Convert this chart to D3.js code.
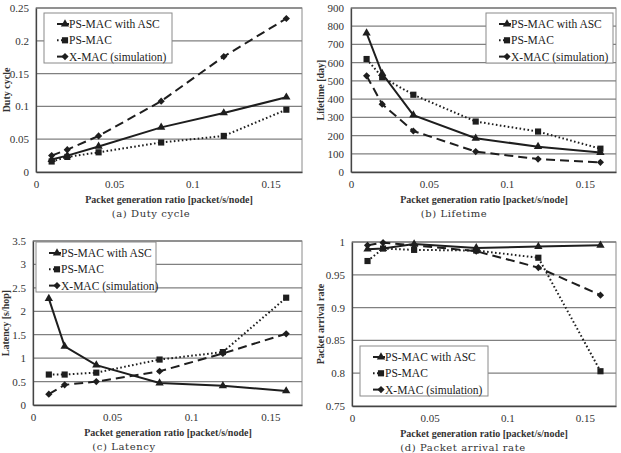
<!DOCTYPE html>
<html>
<head>
<meta charset="utf-8">
<script src="https://cdn.jsdelivr.net/npm/d3@7"></script>
<style>
  body { margin: 0; background: #fff; }
  svg { display: block; }
</style>
</head>
<body>
<svg id="chart" width="621" height="453"></svg>
<script>
// data
var xValues = [0.01, 0.02, 0.04, 0.08, 0.12, 0.16];
var seriesNames = ["PS-MAC with ASC", "PS-MAC", "X-MAC (simulation)"];
var xTicks = [0, 0.05, 0.1, 0.15];

var dutyAsc = [0.019, 0.025, 0.039, 0.068, 0.090, 0.114];
var dutyPs = [0.016, 0.023, 0.030, 0.045, 0.055, 0.095];
var dutyX = [0.025, 0.034, 0.055, 0.108, 0.176, 0.234];
var dutyTicks = [0, 0.05, 0.1, 0.15, 0.2, 0.25];

var lifeAsc = [762, 540, 312, 185, 139, 107];
var lifePs = [620, 520, 424, 277, 222, 128];
var lifeX = [528, 372, 225, 112, 71, 53];
var lifeTicks = [0, 100, 200, 300, 400, 500, 600, 700, 800, 900];

var latAsc = [2.27, 1.25, 0.85, 0.47, 0.41, 0.30];
var latPs = [0.65, 0.65, 0.69, 0.97, 1.13, 2.29];
var latX = [0.23, 0.43, 0.50, 0.72, 1.10, 1.52];
var latTicks = [0, 0.5, 1, 1.5, 2, 2.5, 3, 3.5];

var arrAsc = [0.989, 0.990, 0.997, 0.991, 0.993, 0.995];
var arrPs = [0.971, 0.990, 0.988, 0.987, 0.976, 0.803];
var arrX = [0.995, 0.999, 0.995, 0.986, 0.961, 0.919];
var arrTicks = [0.75, 0.8, 0.85, 0.9, 0.95, 1];

var panels = [
  { caption: "(a) Duty cycle", ytitle: "Duty cycle", series: [dutyAsc, dutyPs, dutyX], yTicks: dutyTicks,
    box: {l: 36, r: 302, t: 8, b: 172}, ytx: 6, legend: {x: 44, y: 13, w: 128}, capX: 151, titleX: 169 },
  { caption: "(b) Lifetime", ytitle: "Lifetime [day]", series: [lifeAsc, lifePs, lifeX], yTicks: lifeTicks,
    box: {l: 351, r: 616, t: 8, b: 172}, ytx: 320, legend: {x: 486, y: 13, w: 127}, capX: 454, titleX: 484 },
  { caption: "(c) Latency", ytitle: "Latency [s/hop]", series: [latAsc, latPs, latX], yTicks: latTicks,
    box: {l: 33, r: 302, t: 241, b: 405}, ytx: 5, legend: {x: 36, y: 242, w: 120}, capX: 124, titleX: 168 },
  { caption: "(d) Packet arrival rate", ytitle: "Packet arrival rate", series: [arrAsc, arrPs, arrX], yTicks: arrTicks,
    box: {l: 352, r: 616, t: 242, b: 406}, ytx: 320, legend: {x: 360, y: 346, w: 128}, capX: 463, titleX: 484 }
];

var ink = "#1e1e1e";
var dashes = [null, "1.6,2.4", "9,5"];
// diamond = rotated square
var markers = [d3.symbolTriangle, d3.symbolSquare, d3.symbolSquare];
var markerSize = [30, 38, 26];
var markerRot = [0, 0, 45];

var svg = d3.select("#chart");

panels.forEach(function(p) {
  var g = svg.append("g");
  var x = d3.scaleLinear().domain([0, 0.17]).range([p.box.l, p.box.r]);
  var y = d3.scaleLinear().domain(d3.extent(p.yTicks)).range([p.box.b, p.box.t]);

  // plot frame + grid
  g.append("rect")
    .attr("x", p.box.l).attr("y", p.box.t)
    .attr("width", p.box.r - p.box.l).attr("height", p.box.b - p.box.t)
    .attr("fill", "#fff").attr("stroke", "#8a8a8a").attr("stroke-width", 1);

  g.selectAll(".grid")
    .data(p.yTicks.slice(1))
    .enter().append("line")
    .attr("x1", p.box.l).attr("x2", p.box.r)
    .attr("y1", d => y(d)).attr("y2", d => y(d))
    .attr("stroke", "#808080").attr("stroke-width", 1.3);

  var yAxis = g.append("g")
    .attr("transform", "translate(" + p.box.l + ",0)")
    .call(d3.axisLeft(y).tickValues(p.yTicks).tickSize(0).tickPadding(7).tickFormat(d3.format("")));
  var xAxis = g.append("g")
    .attr("transform", "translate(0," + p.box.b + ")")
    .call(d3.axisBottom(x).tickValues(xTicks).tickSize(0).tickPadding(8).tickFormat(d3.format("")));
  [yAxis, xAxis].forEach(function(a) {
    a.select(".domain").attr("stroke", "#444").attr("stroke-width", 1.3);
    a.selectAll("text").attr("font-family", "Liberation Serif, serif").attr("font-size", 11).attr("fill", "#333");
  });

  // series
  p.series.forEach(function(vals, si) {
    var pts = xValues.map((xv, i) => [xv, vals[i]]);
    g.append("path")
      .datum(pts)
      .attr("d", d3.line().x(d => x(d[0])).y(d => y(d[1])))
      .attr("fill", "none").attr("stroke", ink)
      .attr("stroke-width", 2)
      .attr("stroke-dasharray", dashes[si]);
    g.selectAll(".m" + si)
      .data(pts)
      .enter().append("path")
      .attr("transform", d => "translate(" + x(d[0]) + "," + y(d[1]) + ") rotate(" + markerRot[si] + ")")
      .attr("d", d3.symbol().type(markers[si]).size(markerSize[si]))
      .attr("fill", ink);
  });

  // legend
  var lg = g.append("g").attr("transform", "translate(" + p.legend.x + "," + p.legend.y + ")");
  lg.append("rect").attr("width", p.legend.w).attr("height", 50)
    .attr("fill", "#fff").attr("stroke", "#8a8a8a").attr("stroke-width", 1);
  seriesNames.forEach(function(name, si) {
    var ly = 11 + si * 16.3;
    lg.append("line").attr("x1", 13).attr("x2", 25).attr("y1", ly).attr("y2", ly)
      .attr("stroke", ink).attr("stroke-width", 2).attr("stroke-dasharray", dashes[si]);
    lg.append("path").attr("transform", "translate(21," + ly + ") rotate(" + markerRot[si] + ")")
      .attr("d", d3.symbol().type(markers[si]).size(markerSize[si])).attr("fill", ink);
    lg.append("text").attr("x", 25).attr("y", ly + 4)
      .attr("font-family", "Liberation Serif, serif").attr("font-size", 11.5).attr("fill", "#222")
      .text(name);
  });

  // titles
  g.append("text")
    .attr("transform", "translate(" + p.ytx + "," + ((p.box.t + p.box.b) / 2) + ") rotate(-90)")
    .attr("text-anchor", "middle").attr("dy", "0.35em")
    .attr("font-family", "Liberation Serif, serif").attr("font-weight", "bold").attr("font-size", 10).attr("fill", "#333")
    .text(p.ytitle);
  g.append("text")
    .attr("x", p.titleX).attr("y", p.box.b + 30.5)
    .attr("text-anchor", "middle")
    .attr("font-family", "Liberation Serif, serif").attr("font-weight", "bold").attr("font-size", 10).attr("fill", "#333")
    .text("Packet generation ratio [packet/s/node]");
  g.append("text")
    .attr("x", p.capX).attr("y", p.box.b + 44.5)
    .attr("text-anchor", "middle")
    .attr("font-family", "DejaVu Serif, serif").attr("font-size", 10).attr("letter-spacing", 0.6).attr("fill", "#333")
    .text(p.caption);
});
</script>
</body>
</html>
